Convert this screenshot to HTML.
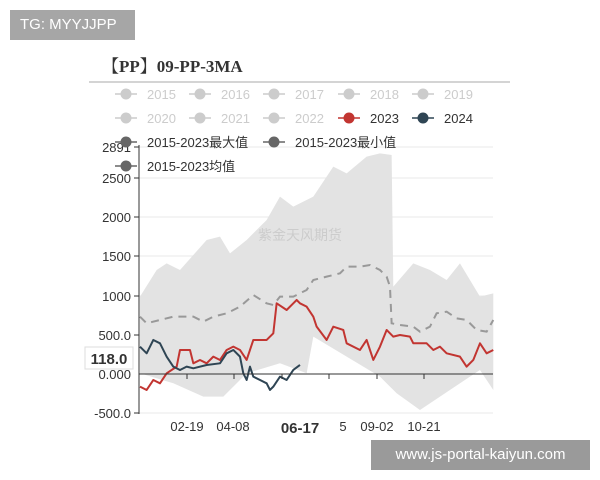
<!DOCTYPE html>
<html><head><meta charset="utf-8"><style>
body{margin:0;width:600px;height:480px;background:#fff;overflow:hidden;position:relative;font-family:"Liberation Sans","Noto Sans CJK SC",sans-serif}
.tg{position:absolute;left:10px;top:10px;width:125px;height:30px;background:#a6a6a6;color:#fff;font-size:15px;line-height:30px;text-indent:10px}
.wm{position:absolute;left:371px;top:440px;width:219px;height:30px;background:#9a9a9a;color:#fff;font-size:15px;line-height:30px;text-align:center}
</style></head><body>
<svg width="600" height="480" style="position:absolute;left:0;top:0" font-family="Liberation Sans, Noto Sans CJK SC, sans-serif">
<text x="102" y="72" font-family="Liberation Serif, Noto Serif CJK SC, serif" font-weight="bold" font-size="17" fill="#333">【PP】09-PP-3MA</text>
<line x1="89" y1="82" x2="510" y2="82" stroke="#aaa"/>
<g font-size="13" fill="#ccc">
<g><line x1="115" y1="94" x2="137" y2="94" stroke="#ccc" stroke-width="1.5"/><circle cx="126" cy="94" r="5.5" fill="#ccc"/><text x="147" y="99">2015</text></g>
<g><line x1="189" y1="94" x2="211" y2="94" stroke="#ccc" stroke-width="1.5"/><circle cx="200" cy="94" r="5.5" fill="#ccc"/><text x="221" y="99">2016</text></g>
<g><line x1="263" y1="94" x2="285" y2="94" stroke="#ccc" stroke-width="1.5"/><circle cx="274" cy="94" r="5.5" fill="#ccc"/><text x="295" y="99">2017</text></g>
<g><line x1="338" y1="94" x2="360" y2="94" stroke="#ccc" stroke-width="1.5"/><circle cx="349" cy="94" r="5.5" fill="#ccc"/><text x="370" y="99">2018</text></g>
<g><line x1="412" y1="94" x2="434" y2="94" stroke="#ccc" stroke-width="1.5"/><circle cx="423" cy="94" r="5.5" fill="#ccc"/><text x="444" y="99">2019</text></g>
<g><line x1="115" y1="118" x2="137" y2="118" stroke="#ccc" stroke-width="1.5"/><circle cx="126" cy="118" r="5.5" fill="#ccc"/><text x="147" y="123">2020</text></g>
<g><line x1="189" y1="118" x2="211" y2="118" stroke="#ccc" stroke-width="1.5"/><circle cx="200" cy="118" r="5.5" fill="#ccc"/><text x="221" y="123">2021</text></g>
<g><line x1="263" y1="118" x2="285" y2="118" stroke="#ccc" stroke-width="1.5"/><circle cx="274" cy="118" r="5.5" fill="#ccc"/><text x="295" y="123">2022</text></g>
<g><line x1="338" y1="118" x2="360" y2="118" stroke="#c23531" stroke-width="1.5"/><circle cx="349" cy="118" r="5.5" fill="#c23531"/><text x="370" y="123" fill="#333">2023</text></g>
<g><line x1="412" y1="118" x2="434" y2="118" stroke="#2f4554" stroke-width="1.5"/><circle cx="423" cy="118" r="5.5" fill="#2f4554"/><text x="444" y="123" fill="#333">2024</text></g>
</g>
<!-- grid -->
<g stroke="#e8e8e8" stroke-width="1">
<line x1="139" y1="147" x2="493" y2="147"/><line x1="139" y1="178" x2="493" y2="178"/><line x1="139" y1="217" x2="493" y2="217"/><line x1="139" y1="256" x2="493" y2="256"/><line x1="139" y1="296" x2="493" y2="296"/><line x1="139" y1="335" x2="493" y2="335"/><line x1="139" y1="413" x2="493" y2="413"/>
</g>
<g transform="translate(80,130) scale(0.3333)">
<polygon fill="#e3e3e3" points="180,500 230,420 260,400 300,420 380,330 420,320 450,370 500,330 560,270 600,200 640,230 700,200 760,110 800,130 860,80 900,70 935,75 940,470 1000,400 1050,420 1100,450 1140,400 1200,500 1240,490 1240,780 1200,720 1020,840 950,790 900,740 700,620 680,730 600,700 500,730 430,800 370,800 280,760 180,730"/>
<polyline fill="none" stroke="#999" stroke-width="6" stroke-dasharray="24,18" points="180,560 200,580 240,570 280,560 340,560 370,575 400,560 440,550 480,530 520,495 560,520 580,525 600,500 640,500 680,480 700,450 740,440 780,430 800,410 840,410 870,405 900,420 920,440 930,470 935,580 960,585 1000,590 1020,605 1050,590 1070,550 1100,545 1130,565 1160,570 1190,600 1220,605 1240,570"/>
<polyline fill="none" stroke="#c23531" stroke-width="6" stroke-linejoin="round" points="180,770 200,780 220,750 240,760 260,730 290,710 300,660 330,660 340,700 360,690 380,700 400,680 420,690 440,660 460,650 480,660 500,690 520,630 560,630 580,610 590,520 620,540 640,520 650,510 660,520 680,530 700,560 710,590 740,630 760,590 790,600 800,640 840,660 860,630 880,690 900,650 920,600 940,620 960,615 990,620 1000,640 1040,640 1060,660 1080,650 1100,670 1140,680 1160,710 1180,690 1200,640 1220,670 1240,660"/>
<polyline fill="none" stroke="#2f4554" stroke-width="6" stroke-linejoin="round" points="180,650 200,670 220,630 240,640 260,680 280,710 300,720 320,710 340,715 380,705 420,700 440,670 460,660 480,680 490,730 500,750 510,710 520,740 560,760 570,780 580,770 600,740 620,750 640,720 660,705"/>
</g>
<text x="300" y="240" font-size="14" fill="#ccc" text-anchor="middle">紫金天风期货</text>
<!-- axes -->
<line x1="139" y1="145" x2="139" y2="414" stroke="#333"/>
<line x1="139" y1="374" x2="493" y2="374" stroke="#333"/>
<g stroke="#333"><line x1="134" y1="147" x2="139" y2="147"/><line x1="134" y1="178" x2="139" y2="178"/><line x1="134" y1="217" x2="139" y2="217"/><line x1="134" y1="256" x2="139" y2="256"/><line x1="134" y1="296" x2="139" y2="296"/><line x1="134" y1="335" x2="139" y2="335"/><line x1="134" y1="413" x2="139" y2="413"/>
<line x1="187" y1="374" x2="187" y2="379"/><line x1="234" y1="374" x2="234" y2="379"/><line x1="282" y1="374" x2="282" y2="379"/><line x1="329" y1="374" x2="329" y2="379"/><line x1="377" y1="374" x2="377" y2="379"/><line x1="424" y1="374" x2="424" y2="379"/></g>
<g font-size="13" fill="#333" text-anchor="end">
<text x="131" y="152">2891</text><text x="131" y="183">2500</text><text x="131" y="222">2000</text><text x="131" y="261">1500</text><text x="131" y="301">1000</text><text x="131" y="340">500.0</text><text x="131" y="379">0.000</text><text x="131" y="418">-500.0</text>
</g>
<rect x="85" y="347" width="48" height="22" fill="#fff" stroke="#ddd"/>
<text x="109" y="364" font-size="15" font-weight="bold" fill="#333" text-anchor="middle">118.0</text>
<g font-size="13" fill="#333" text-anchor="middle">
<text x="187" y="431">02-19</text><text x="233" y="431">04-08</text><text x="300" y="433" font-weight="bold" font-size="15">06-17</text><text x="343" y="431">5</text><text x="377" y="431">09-02</text><text x="424" y="431">10-21</text>
</g>
<g font-size="13" fill="#333">
<line x1="115" y1="142" x2="137" y2="142" stroke="#666" stroke-width="1.5"/><circle cx="126" cy="142" r="5.5" fill="#666"/><text x="147" y="147">2015-2023最大值</text>
<line x1="263" y1="142" x2="285" y2="142" stroke="#666" stroke-width="1.5"/><circle cx="274" cy="142" r="5.5" fill="#666"/><text x="295" y="147">2015-2023最小值</text>
<line x1="115" y1="166" x2="137" y2="166" stroke="#666" stroke-width="1.5"/><circle cx="126" cy="166" r="5.5" fill="#666"/><text x="147" y="171">2015-2023均值</text>
</g>
</svg>
<div class="tg">TG: MYYJJPP</div>
<div class="wm">www.js-portal-kaiyun.com</div>
</body></html>
